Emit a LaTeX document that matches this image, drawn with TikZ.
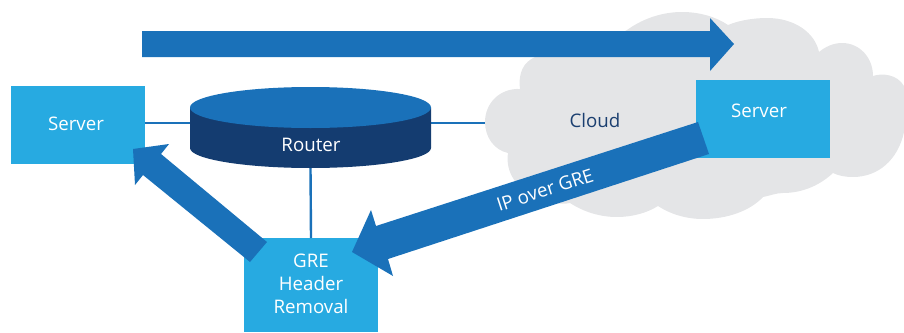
\documentclass[tikz,border=0pt]{standalone}
\usepackage{fontspec}
\setmainfont{Open Sans}
\definecolor{cloudgray}{HTML}{E4E5E7}
\definecolor{boxblue}{HTML}{27AAE1}
\definecolor{arrowblue}{HTML}{1A71B9}
\definecolor{routerdark}{HTML}{143C70}
\definecolor{clouddark}{HTML}{1B3F70}
\tikzset{
  boxnode/.style={fill=boxblue,inner sep=0pt,outer sep=0pt},
  link/.style={draw=arrowblue,line width=2.4pt},
  bigarrow/.style={fill=arrowblue},
  lbl/.style={inner sep=0pt,align=center,font=\fontsize{18.7}{23}\selectfont}
}
\begin{document}
\begin{tikzpicture}[x=1pt,y=-1pt]
\useasboundingbox (0,0) rectangle (904,332);
% cloud
\fill[cloudgray] (485,122) .. controls (485,103) and (500,88) .. (520,89)
 .. controls (518,72) and (524,62) .. (535,57)
 .. controls (565,42) and (600,45) .. (627,30)
 .. controls (645,17) and (665,12) .. (682,12)
 .. controls (700,12) and (716,17) .. (728,25)
 .. controls (740,20) and (755,18) .. (767,18)
 .. controls (795,18) and (815,33) .. (819,52)
 .. controls (825,47) and (833,43) .. (842,43)
 .. controls (860,43) and (873,58) .. (873,76)
 .. controls (882,73) and (897,74) .. (904,86)
 -- (904,132)
 .. controls (898,160) and (878,177) .. (853,177)
 .. controls (846,177) and (839,176) .. (833,173)
 .. controls (818,187) and (800,193) .. (783,193)
 .. controls (776,193) and (769,196) .. (763,197)
 .. controls (750,211) and (727,219) .. (703,219)
 .. controls (686,219) and (670,214) .. (658,206)
 .. controls (647,213) and (632,217) .. (617,217)
 .. controls (600,217) and (584,212) .. (570,203)
 .. controls (560,205) and (548,203) .. (537,197)
 .. controls (517,190) and (505,172) .. (508,153)
 .. controls (494,150) and (485,137) .. (485,122) -- cycle;
% coordinates for the links
\coordinate (routerL) at (190,123);
\coordinate (routerR) at (431,123);
\coordinate (cloudL) at (485,123);
\node[boxnode,minimum width=134pt,minimum height=78pt] (serverA) at (78,125) {};
\node[boxnode,minimum width=134pt,minimum height=78pt] (serverB) at (763,119) {};
\node[boxnode,minimum width=134pt,minimum height=94pt] (gre) at (311,285) {};
\node[inner sep=0pt,minimum width=241pt,minimum height=81pt] (router) at (310.5,127.5) {};
\draw[link] (serverA.east |- routerL) -- (routerL);
\draw[link] (routerR) -- (cloudL);
\draw[link] (router.south) -- (gre.north);
% router cylinder
\fill[routerdark] (190,107.5) -- (190,148) .. controls (190,159) and (244,168) .. (310.5,168)
  .. controls (377,168) and (431,159) .. (431,148) -- (431,107.5) -- cycle;
\fill[arrowblue] (190,107.5) .. controls (190,96) and (244,87) .. (310.5,87)
  .. controls (377,87) and (431,96) .. (431,107.5)
  .. controls (431,119) and (377,128) .. (310.5,128)
  .. controls (244,128) and (190,119) .. (190,107.5) -- cycle;
% arrows
\fill[bigarrow] (142,31) -- (710,31) -- (710,18) -- (734,44) -- (710,71) -- (710,57) -- (142,57) -- cycle;
\fill[bigarrow] (698,122) -- (376,226) -- (371,210) -- (352,252) -- (393,276) -- (388,259) -- (709,154) -- cycle;
\fill[bigarrow] (267,242) -- (161,154) -- (169,144) -- (133,149) -- (135,185) -- (143,175) -- (250,262) -- cycle;
% labels
\node[lbl,text=white] at (76,124) {Server};
\node[lbl,text=white] at (759,111) {Server};
\node[lbl,text=clouddark] at (595,120) {Cloud};
\node[lbl,text=white] at (311,145) {Router};
\node[lbl,text=white] at (311,284) {GRE\\Header\\Removal};
\node[lbl,text=white,rotate=18] at (545,190) {IP over GRE};
\end{tikzpicture}
\end{document}
